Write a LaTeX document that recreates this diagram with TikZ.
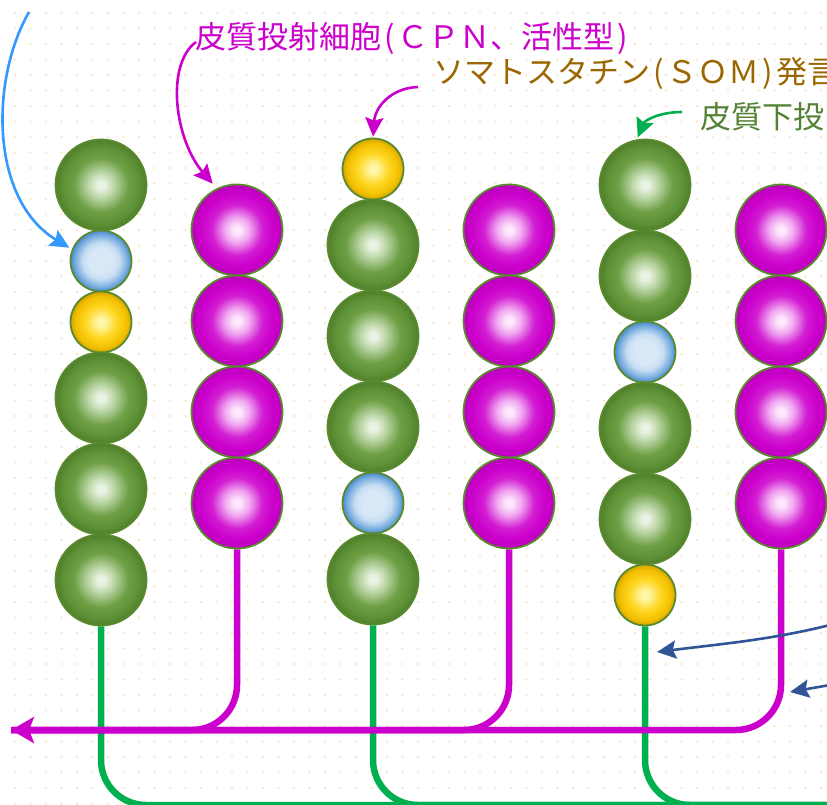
\documentclass[tikz,border=0pt]{standalone}
\usepackage{fontspec}
\newfontfamily\cjk{Noto Sans CJK JP}
\usetikzlibrary{arrows.meta}
\definecolor{magc}{HTML}{CC00CC}
\definecolor{somc}{HTML}{996600}
\definecolor{subc}{HTML}{548235}
\definecolor{ringc}{HTML}{5A8A2E}
\definecolor{stemg}{HTML}{00B050}
\definecolor{darkbl}{HTML}{2F5597}
\definecolor{lightbl}{HTML}{3399FF}
\definecolor{dotc}{HTML}{FBE8C4}
\definecolor{gA}{HTML}{EAF3E4}\definecolor{gM}{HTML}{BCD7A8}\definecolor{gB}{HTML}{6E9F45}\definecolor{gC}{HTML}{5E9236}\definecolor{gD}{HTML}{4F7E2B}
\definecolor{mA}{HTML}{FDE8FD}\definecolor{mM}{HTML}{F0A4F0}\definecolor{mB}{HTML}{D21ED2}\definecolor{mC}{HTML}{CC00CC}\definecolor{mD}{HTML}{BC00BC}
\definecolor{bA}{HTML}{D8E8F6}\definecolor{bB}{HTML}{C6DDF2}\definecolor{bC}{HTML}{7DB0E0}\definecolor{bD}{HTML}{4A8ACC}
\definecolor{yA}{HTML}{FFF7A8}\definecolor{yB}{HTML}{FFD622}\definecolor{yC}{HTML}{F2C000}\definecolor{yD}{HTML}{D6A400}
\pgfdeclareradialshading{greenball}{\pgfpoint{0bp}{0bp}}{color(0bp)=(gA); color(2bp)=(gA); color(7bp)=(gM); color(15bp)=(gB); color(21bp)=(gC); color(25bp)=(gD); color(50bp)=(gD)}
\pgfdeclareradialshading{magball}{\pgfpoint{0bp}{0bp}}{color(0bp)=(mA); color(2bp)=(mA); color(7bp)=(mM); color(14bp)=(mB); color(20bp)=(mC); color(25bp)=(mD); color(50bp)=(mD)}
\pgfdeclareradialshading{blueball}{\pgfpoint{0bp}{0bp}}{color(0bp)=(bA); color(10bp)=(bA); color(15bp)=(bB); color(21bp)=(bC); color(25bp)=(bD); color(50bp)=(bD)}
\pgfdeclareradialshading{yellowball}{\pgfpoint{0bp}{0bp}}{color(0bp)=(yA); color(3bp)=(yA); color(13bp)=(yB); color(21bp)=(yC); color(25bp)=(yD); color(50bp)=(yD)}
\pgfdeclarelayer{bg}
\pgfsetlayers{bg,main}
\newcommand\lp{\kern3pt(\kern3pt}
\newcommand\rp{\kern3pt)\kern3pt}
\tikzset{
  ballbase/.style={circle, inner sep=0pt, draw=ringc, line width=1.8pt, shade},
  gbig/.style={ballbase, minimum size=91pt, shading=greenball},
  mbig/.style={ballbase, minimum size=91pt, shading=magball},
  bsmall/.style={ballbase, minimum size=61pt, shading=blueball},
  ysmall/.style={ballbase, minimum size=61pt, shading=yellowball},
  gstem/.style={draw=stemg, line width=6.5pt, rounded corners=45pt},
  mstem/.style={draw=magc, line width=6.5pt, rounded corners=45pt},
  lab/.style={font=\cjk\fontsize{31}{31}\selectfont, inner sep=0pt, anchor=base west},
  thinarrow/.style={line width=2.6pt, -{Stealth[length=19pt,width=18pt,inset=3pt]}},
}
\begin{document}
\begin{tikzpicture}[x=1pt,y=-1pt]
\useasboundingbox (0,0) rectangle (827,805);
\begin{pgfonlayer}{bg}
\fill[white] (0,0) rectangle (827,805);
\foreach \i in {0,...,52} \foreach \j in {0,...,51} \fill[dotc] (15+15.5*\i,13+15.5*\j) circle (1.3);
\end{pgfonlayer}
% column 1
\node[gbig] (c1a) at (101,185) {};
\node[bsmall] (c1b) at (101,261) {};
\node[ysmall] (c1c) at (101,322) {};
\node[gbig] (c1d) at (101,398) {};
\node[gbig] (c1e) at (101,489) {};
\node[gbig] (c1f) at (101,580) {};
% column 2
\node[mbig] (c2a) at (237,230) {};
\node[mbig] (c2b) at (237,321) {};
\node[mbig] (c2c) at (237,412) {};
\node[mbig] (c2d) at (237,503) {};
% column 3
\node[ysmall] (c3a) at (373,169) {};
\node[gbig] (c3b) at (373,245) {};
\node[gbig] (c3c) at (373,336) {};
\node[gbig] (c3d) at (373,427) {};
\node[bsmall] (c3e) at (373,503) {};
\node[gbig] (c3f) at (373,579) {};
% column 4
\node[mbig] (c4a) at (509,230) {};
\node[mbig] (c4b) at (509,321) {};
\node[mbig] (c4c) at (509,412) {};
\node[mbig] (c4d) at (509,503) {};
% column 5
\node[gbig] (c5a) at (645,185) {};
\node[gbig] (c5b) at (645,276) {};
\node[bsmall] (c5c) at (645,352) {};
\node[gbig] (c5d) at (645,428) {};
\node[gbig] (c5e) at (645,519) {};
\node[ysmall] (c5f) at (645,595) {};
% column 6
\node[mbig] (c6a) at (781,230) {};
\node[mbig] (c6b) at (781,321) {};
\node[mbig] (c6c) at (781,412) {};
\node[mbig] (c6d) at (781,503) {};
% stems
\coordinate (gend) at (870,805);
\coordinate (mtip) at (11,730);
\begin{pgfonlayer}{bg}
\draw[gstem] (c1f.south) |- (gend);
\draw[gstem] (c3f.south) |- (gend);
\draw[gstem] (c5f.south) |- (gend);
\draw[mstem] (c2d.south) |- (mtip);
\draw[mstem] (c4d.south) |- (mtip);
\draw[mstem, -{Stealth[length=23pt,width=26pt,inset=5pt]}] (c6d.south) |- (mtip);
\end{pgfonlayer}
% labels
\node[lab, text=magc] (lab1) at (195,49) {皮質投射細胞\lp ＣＰＮ、活性型\rp};
\node[lab, text=somc] (lab2) at (433,84) {ソマトスタチン\lp ＳＯＭ\rp 発言};
\node[lab, text=subc] (lab3) at (700,129) {皮質下投};
% label arrows
\coordinate (s0) at (29,12);
\draw[thinarrow, draw=lightbl, shorten >=3pt] (s0) .. controls (-10,80) and (-10,200) .. (c1b.158);
\coordinate (s1) at (196,42);
\draw[thinarrow, draw=magc, shorten >=6pt] (s1) .. controls (165,65) and (175,140) .. (c2a.116);
\coordinate (s2) at (418,87);
\draw[thinarrow, draw=magc, shorten >=1pt] (s2) .. controls (390,88) and (375,108) .. (c3a.north);
\coordinate (s3) at (682,112);
\draw[thinarrow, draw=stemg, shorten >=2pt] (s3) .. controls (660,112) and (645,120) .. (c5a.100);
% dark blue arrows
\coordinate (d1) at (830,625);
\coordinate (t1) at (657,652);
\draw[thinarrow, draw=darkbl] (d1) .. controls (770,640) and (720,644) .. (t1);
\coordinate (d2) at (830,685);
\coordinate (t2) at (790,692);
\draw[thinarrow, draw=darkbl] (d2) -- (t2);
\end{tikzpicture}
\end{document}
